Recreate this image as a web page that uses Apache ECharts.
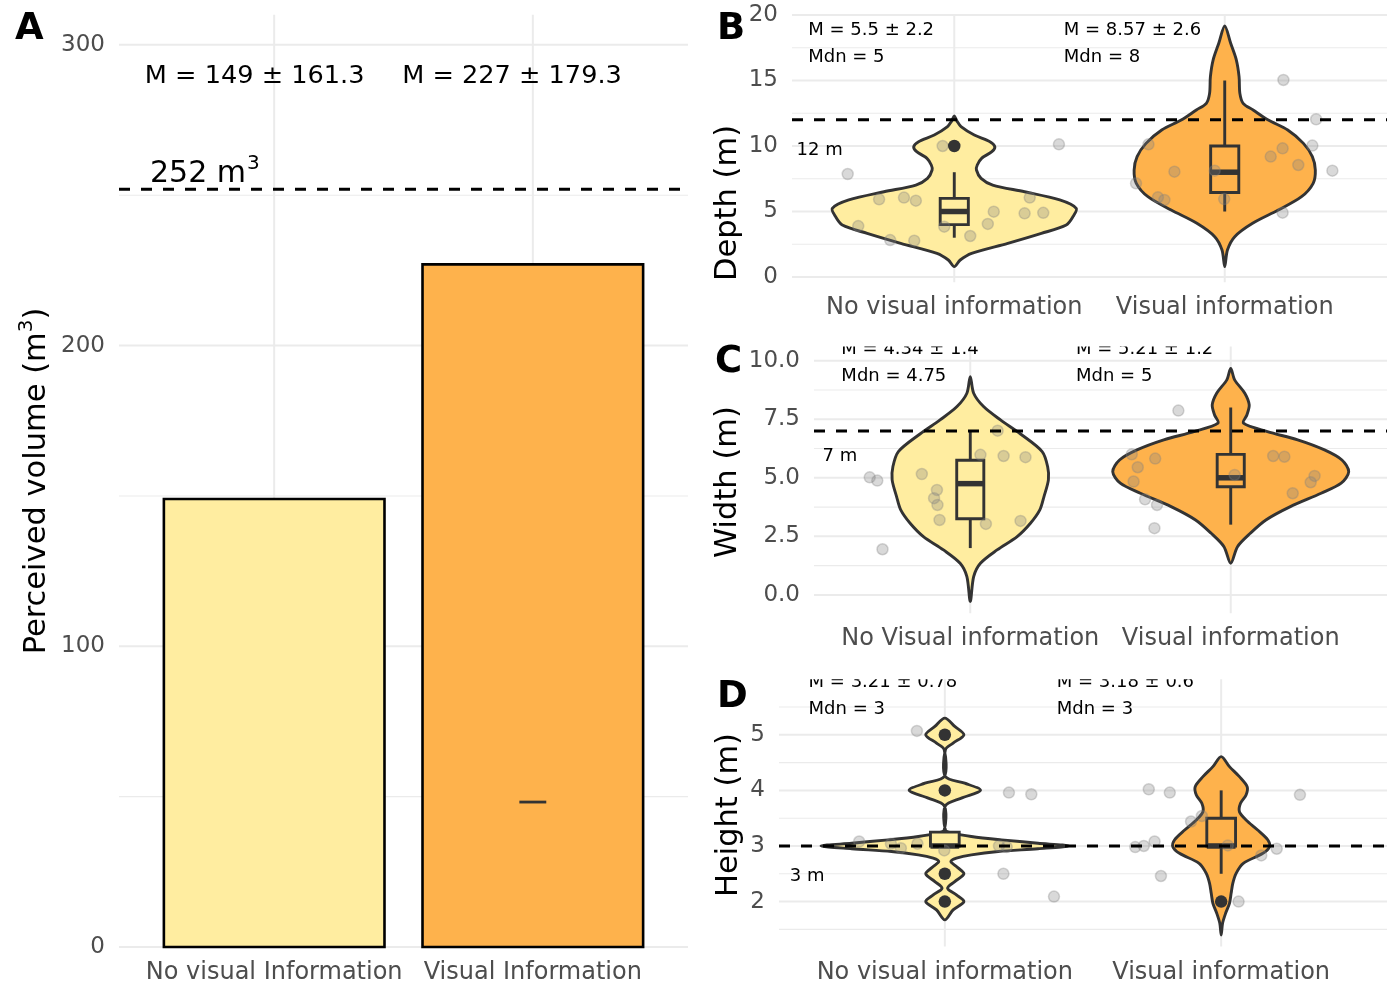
<!DOCTYPE html>
<html><head><meta charset="utf-8">
<script src="https://cdn.jsdelivr.net/npm/echarts@6/dist/echarts.min.js"></script>
<style>html,body{margin:0;padding:0;background:#fff}#c{width:1400px;height:1000px}</style>
</head><body><div id="c"></div>
<script>
// ---------------- DATA ----------------
// Panel A
const volCategories = ['No visual Information', 'Visual Information'];
const volMeans = [149, 227];
const volStats = ['M = 149 ± 161.3', 'M = 227 ± 179.3'];
const volRef = 252;
const volRefLabel = ['252 m', '3'];
const volMark = [2, 48.2];
const volTicks = [0, 100, 200, 300];
const volMinorTicks = [50, 150, 250];

// Panel B (depth)
const depthCategories = ['No visual information', 'Visual information'];
const depthTicks = [0, 5, 10, 15, 20];
const depthMinorTicks = [2.5, 7.5, 12.5, 17.5];
const depthRef = 12;
const depthRefLabel = '12 m';
const depthStats = [['M = 5.5 ± 2.2', 'Mdn = 5'], ['M = 8.57 ± 2.6', 'Mdn = 8']];
const depthViolinNo = [[12.29,0],[11.9,0.010],[11.48,0.025],[10.84,0.074],[10.33,0.132],[9.95,0.150],[9.57,0.139],[9.06,0.101],[8.55,0.085],[8.17,0.082],[7.53,0.099],[7.02,0.142],[6.51,0.260],[5.88,0.390],[5.24,0.451],[4.61,0.439],[3.97,0.414],[3.33,0.322],[2.57,0.198],[1.81,0.064],[1.30,0.022],[0.79,0]];
const depthViolinVis = [[19.16,0],[17.84,0.022],[16.56,0.043],[15.29,0.053],[14.02,0.056],[13.26,0.068],[12.75,0.105],[11.98,0.161],[11.22,0.233],[10.20,0.291],[9.19,0.324],[8.17,0.335],[7.15,0.327],[6.13,0.284],[5.11,0.198],[4.10,0.103],[3.08,0.037],[2.06,0.010],[0.79,0]];
const depthBoxNo = [3, 4, 5, 6, 8];
const depthBoxVis = [5, 6.45, 8, 10, 15];
const depthOutliers = [[1, 10]];
const depthPointsNo = [[0.606,7.86],[0.722,5.93],[0.814,6.06],[0.858,5.83],[0.645,3.89],[0.763,2.82],[0.852,2.77],[0.957,10.0],[0.963,3.84],[1.059,3.13],[1.124,4.05],[1.146,4.99],[1.260,4.86],[1.279,6.06],[1.329,4.90],[1.387,10.13]];
const depthPointsVis = [[1.718,10.13],[1.672,7.15],[1.753,6.08],[1.777,5.88],[1.814,8.04],[1.963,8.12],[1.998,5.95],[2.170,9.19],[2.214,9.82],[2.217,15.04],[2.214,4.91],[2.272,8.55],[2.324,10.03],[2.338,12.04],[2.398,8.12]];

// Panel C (width)
const widthCategories = ['No Visual information', 'Visual information'];
const widthTicks = [0, 2.5, 5, 7.5, 10];
const widthMinorTicks = [1.25, 3.75, 6.25, 8.75];
const widthRef = 7;
const widthRefLabel = '7 m';
const widthStats = [['M = 4.34 ± 1.4', 'Mdn = 4.75'], ['M = 5.21 ± 1.2', 'Mdn = 5']];
const widthViolinNo = [[9.32,0],[8.61,0.013],[8.04,0.051],[7.47,0.116],[6.87,0.193],[6.12,0.276],[5.48,0.297],[4.91,0.300],[4.20,0.283],[3.63,0.267],[3.06,0.231],[2.49,0.180],[1.92,0.103],[1.35,0.039],[0.78,0.013],[-0.28,0]];
const widthViolinVis = [[9.67,0],[9.18,0.015],[8.61,0.054],[8.11,0.071],[7.68,0.062],[7.33,0.049],[6.97,0.141],[6.62,0.257],[6.19,0.360],[5.76,0.427],[5.26,0.453],[4.77,0.424],[4.34,0.347],[3.77,0.229],[3.20,0.135],[2.63,0.075],[2.06,0.026],[1.35,0]];
const widthBoxNo = [2, 3.25, 4.75, 5.75, 7];
const widthBoxVis = [3, 4.62, 5, 6, 8];
const widthOutliers = [];
const widthPointsNo = [[0.614,5.02],[0.643,4.88],[0.663,1.95],[0.814,5.16],[0.872,4.48],[0.861,4.13],[0.874,3.84],[0.882,3.20],[1.039,5.98],[1.060,3.03],[1.105,7.01],[1.128,5.93],[1.212,5.88],[1.193,3.16]];
const widthPointsVis = [[1.799,7.87],[1.620,6.00],[1.710,5.82],[1.643,5.45],[1.627,4.84],[1.671,4.08],[1.717,3.84],[1.707,2.85],[2.015,5.12],[2.163,5.93],[2.206,5.90],[2.322,5.08],[2.307,4.81],[2.238,4.34]];

// Panel D (height)
const heightCategories = ['No visual information', 'Visual information'];
const heightTicks = [2, 3, 4, 5];
const heightMinorTicks = [1.5, 2.5, 3.5, 4.5, 5.5];
const heightRef = 3;
const heightRefLabel = '3 m';
const heightStats = [['M = 3.21 ± 0.78', 'Mdn = 3'], ['M = 3.18 ± 0.6', 'Mdn = 3']];
const heightViolinNo = [[5.30,0],[5.15,0.036],[5.0,0.069],[4.85,0.030],[4.73,0.002],[4.25,0.002],[4.13,0.072],[4.0,0.129],[3.86,0.060],[3.72,0.002],[3.29,0.002],[3.23,0.030],[3.17,0.096],[3.11,0.205],[3.05,0.337],[3.0,0.448],[2.95,0.337],[2.90,0.193],[2.84,0.096],[2.78,0.042],[2.72,0.022],[2.63,0.042],[2.50,0.069],[2.36,0.036],[2.24,0.010],[2.12,0.042],[2.0,0.069],[1.85,0.030],[1.67,0]];
const heightViolinVis = [[4.607,0],[4.427,0.030],[4.247,0.066],[4.067,0.094],[3.917,0.090],[3.767,0.070],[3.617,0.066],[3.468,0.090],[3.288,0.132],[3.108,0.169],[2.988,0.175],[2.868,0.151],[2.688,0.080],[2.508,0.054],[2.328,0.042],[2.149,0.036],[1.969,0.030],[1.789,0.016],[1.609,0.005],[1.40,0]];
const heightBoxNo = [3, 3, 3, 3.25, 3.25];
const heightBoxVis = [2.5, 3, 3, 3.5, 4];
const heightOutliers = [[1, 5], [1, 4], [1, 2.5], [1, 2], [2, 2]];
const heightPointsNo = [[0.899,5.07],[1.232,3.96],[1.313,3.93],[0.690,3.08],[0.805,3.04],[0.841,2.96],[0.901,3.04],[0.998,2.92],[1.196,3.00],[1.224,2.98],[1.212,2.50],[1.395,2.09]];
const heightPointsVis = [[1.738,4.02],[1.814,3.96],[2.285,3.92],[1.891,3.44],[1.930,3.54],[1.689,2.98],[1.720,3.00],[1.759,3.08],[2.024,3.01],[2.145,2.83],[2.201,2.95],[1.782,2.46],[2.063,2.00]];

// ---------------- LAYOUT / STYLE ----------------
const FONT = 'DejaVu Sans';
const COLORS = ['#FFEDA0', '#FEB24C'];
const INK = '#333333';
const GRID_COLOR = '#EBEBEB';
const LW = 2.9;
const TEXT_DY = 1.5;
const layout = {
  A: { grid: { left: 119, top: 14.8, width: 569, height: 932.2 }, y: [0, 310] },
  B: { grid: { left: 792, top: 14.35, width: 595, height: 267.9 }, y: [-0.4, 20.05],
       statX: [0.46, 1.405], statY: [18.95, 16.89], refLab: [0.417, 9.82] },
  C: { grid: { left: 814, top: 346.6, width: 573, height: 266.6 }, y: [-0.78, 10.6],
       statX: [0.505, 1.406], statY: [10.54, 9.39], refLab: [0.433, 5.98] },
  D: { grid: { left: 779, top: 679.2, width: 608, height: 267.4 }, y: [1.19, 6.0],
       statX: [0.507, 1.405], statY: [5.97, 5.48], refLab: [0.439, 2.48] }
};
const BOX_HW = 0.052;
const BAR_HW = 0.4265;

// ---------------- HELPERS ----------------
function gridSeries(gi, major, minor) {
  const data = [];
  major.forEach(v => data.push([0, v, 1]));
  minor.forEach(v => data.push([0, v, 0]));
  [1, 2].forEach(v => data.push([1, v, 1]));
  return {
    type: 'custom', xAxisIndex: gi, yAxisIndex: gi, z: 0, silent: true, data,
    renderItem(params, api) {
      const cs = params.coordSys;
      const t = api.value(0), v = api.value(1), mj = api.value(2);
      let shape;
      if (t === 0) {
        const y = api.coord([1, v])[1];
        shape = { x1: cs.x, y1: y, x2: cs.x + cs.width, y2: y };
      } else {
        const x = api.coord([v, major[0]])[0];
        shape = { x1: x, y1: cs.y, x2: x, y2: cs.y + cs.height };
      }
      return { type: 'line', shape, style: { stroke: GRID_COLOR, lineWidth: mj ? 2 : 1.1 } };
    }
  };
}
function violinSeries(gi, profiles) {
  return {
    type: 'custom', xAxisIndex: gi, yAxisIndex: gi, z: 1, silent: true,
    data: profiles.map((p, i) => [i + 1, p[0][0]]),
    renderItem(params, api) {
      const i = params.dataIndex, prof = profiles[i], xc = i + 1;
      const pts = prof.map(([v, hw]) => api.coord([xc + hw, v]));
      for (let k = prof.length - 2; k >= 1; k--) pts.push(api.coord([xc - prof[k][1], prof[k][0]]));
      return { type: 'polygon', shape: { points: pts, smooth: 0.3 },
               style: { fill: COLORS[i], stroke: INK, lineWidth: LW, lineJoin: 'round' } };
    }
  };
}
function boxSeries(gi, boxes) {
  return {
    type: 'custom', xAxisIndex: gi, yAxisIndex: gi, z: 2, silent: true,
    data: boxes.map((b, i) => [i + 1].concat(b)),
    renderItem(params, api) {
      const xc = api.value(0), lo = api.value(1), q1 = api.value(2), md = api.value(3), q3 = api.value(4), hi = api.value(5);
      const tl = api.coord([xc - BOX_HW, q3]), br = api.coord([xc + BOX_HW, q1]);
      const c = (x, y) => api.coord([x, y]);
      const ch = [];
      if (hi > q3) { const a = c(xc, q3), b = c(xc, hi); ch.push({ type: 'line', shape: { x1: a[0], y1: a[1], x2: b[0], y2: b[1] }, style: { stroke: INK, lineWidth: LW } }); }
      if (lo < q1) { const a = c(xc, q1), b = c(xc, lo); ch.push({ type: 'line', shape: { x1: a[0], y1: a[1], x2: b[0], y2: b[1] }, style: { stroke: INK, lineWidth: LW } }); }
      ch.push({ type: 'rect', shape: { x: tl[0], y: tl[1], width: br[0] - tl[0], height: br[1] - tl[1] },
                style: { fill: COLORS[params.dataIndex], stroke: INK, lineWidth: LW } });
      const m1 = c(xc - BOX_HW, md), m2 = c(xc + BOX_HW, md);
      ch.push({ type: 'line', shape: { x1: m1[0], y1: m1[1], x2: m2[0], y2: m2[1] }, style: { stroke: INK, lineWidth: 5.5 } });
      return { type: 'group', children: ch };
    }
  };
}
function pointSeries(gi, pts) {
  return { type: 'scatter', xAxisIndex: gi, yAxisIndex: gi, z: 3, silent: true, data: pts, symbolSize: 11,
           itemStyle: { opacity: 1, color: 'rgba(128,128,128,0.3)', borderColor: 'rgba(128,128,128,0.32)', borderWidth: 1.5 } };
}
function outlierSeries(gi, pts) {
  return { type: 'scatter', xAxisIndex: gi, yAxisIndex: gi, z: 4, silent: true, data: pts, symbolSize: 12.5,
           itemStyle: { opacity: 1, color: INK } };
}
function refSeries(gi, v) {
  return {
    type: 'custom', xAxisIndex: gi, yAxisIndex: gi, z: 5, silent: true, data: [[1, v]],
    renderItem(params, api) {
      const cs = params.coordSys; const y = api.coord([1, api.value(1)])[1];
      return { type: 'line', shape: { x1: cs.x, y1: y, x2: cs.x + cs.width, y2: y },
               style: { stroke: '#000', lineWidth: 3, lineDash: [11, 11] } };
    }
  };
}
function textSeries(gi, items, size) {
  return {
    type: 'custom', xAxisIndex: gi, yAxisIndex: gi, z: 6, silent: true, clip: true,
    data: items.map(t => [t[0], t[1]]),
    renderItem(params, api) {
      const p = api.coord([api.value(0), api.value(1)]);
      const it = items[params.dataIndex];
      const style = { fill: '#000', fontSize: size, fontFamily: FONT, align: 'left', verticalAlign: 'middle' };
      if (Array.isArray(it[2])) {
        style.text = '{a|' + it[2][0] + '}{s|' + it[2][1] + '}';
        style.rich = { a: { fontSize: it[3], fontFamily: FONT, lineHeight: 40, verticalAlign: 'middle' },
                       s: { fontSize: 20, fontFamily: FONT, lineHeight: 40, verticalAlign: 'top', padding: [0, 0, 0, 1] } };
      } else {
        style.text = it[2];
        if (it[3]) style.fontSize = it[3];
      }
      return { type: 'text', x: p[0], y: p[1] + TEXT_DY, style };
    }
  };
}
function statItems(L, stats, refLabel) {
  const out = [];
  stats.forEach((s, i) => { out.push([L.statX[i], L.statY[0], s[0]]); out.push([L.statX[i], L.statY[1], s[1]]); });
  out.push([L.refLab[0], L.refLab[1], refLabel]);
  return out;
}

// ---------------- AXES ----------------
const keys = ['A', 'B', 'C', 'D'];
const cats = [volCategories, depthCategories, widthCategories, heightCategories];
const yTicks = [volTicks, depthTicks, widthTicks, heightTicks];
const yFmt = [v => String(v), v => String(v), v => v.toFixed(1), v => String(v)];
const grids = keys.map(k => Object.assign({ containLabel: false, outerBoundsMode: 'none' }, layout[k].grid));
const xAxes = keys.map((k, i) => ({
  gridIndex: i, type: 'value', min: 0.4, max: 2.6,
  axisLine: { show: false }, axisTick: { show: false }, splitLine: { show: false },
  axisLabel: { customValues: [1, 2], formatter: v => cats[i][Math.round(v) - 1], fontSize: 24, color: '#4D4D4D', margin: 14, fontFamily: FONT }
}));
const yAxes = keys.map((k, i) => ({
  gridIndex: i, type: 'value', min: layout[k].y[0], max: layout[k].y[1],
  axisLine: { show: false }, axisTick: { show: false }, splitLine: { show: false },
  axisLabel: { customValues: yTicks[i], formatter: yFmt[i], fontSize: 23, color: '#4D4D4D', margin: 14, fontFamily: FONT }
}));

// ---------------- SERIES ----------------
const series = [];
// A
series.push(gridSeries(0, volTicks, volMinorTicks));
series.push({
  type: 'custom', xAxisIndex: 0, yAxisIndex: 0, z: 1, silent: true,
  data: volMeans.map((v, i) => [i + 1, v]),
  renderItem(params, api) {
    const x = api.value(0), v = api.value(1);
    const tl = api.coord([x - BAR_HW, v]), br = api.coord([x + BAR_HW, 0]);
    return { type: 'rect', shape: { x: tl[0], y: tl[1], width: br[0] - tl[0], height: br[1] - tl[1] },
             style: { fill: COLORS[params.dataIndex], stroke: '#000', lineWidth: 2.6 } };
  }
});
series.push({
  type: 'custom', xAxisIndex: 0, yAxisIndex: 0, z: 2, silent: true, data: [volMark],
  renderItem(params, api) {
    const a = api.coord([api.value(0) - BOX_HW, api.value(1)]), b = api.coord([api.value(0) + BOX_HW, api.value(1)]);
    return { type: 'line', shape: { x1: a[0], y1: a[1], x2: b[0], y2: b[1] }, style: { stroke: INK, lineWidth: 2.8 } };
  }
});
series.push(refSeries(0, volRef));
series.push(textSeries(0, [[0.5, 290, volStats[0]], [1.495, 290, volStats[1]], [0.52, 257.6, volRefLabel, 30]], 25.6));

const panelsData = [
  [depthViolinNo, depthViolinVis, depthBoxNo, depthBoxVis, depthPointsNo, depthPointsVis, depthOutliers, depthRef, depthStats, depthRefLabel, depthTicks, depthMinorTicks],
  [widthViolinNo, widthViolinVis, widthBoxNo, widthBoxVis, widthPointsNo, widthPointsVis, widthOutliers, widthRef, widthStats, widthRefLabel, widthTicks, widthMinorTicks],
  [heightViolinNo, heightViolinVis, heightBoxNo, heightBoxVis, heightPointsNo, heightPointsVis, heightOutliers, heightRef, heightStats, heightRefLabel, heightTicks, heightMinorTicks]
];
panelsData.forEach((p, j) => {
  const gi = j + 1, L = layout[keys[gi]];
  series.push(gridSeries(gi, p[10], p[11]));
  series.push(violinSeries(gi, [p[0], p[1]]));
  series.push(boxSeries(gi, [p[2], p[3]]));
  series.push(pointSeries(gi, p[4].concat(p[5])));
  if (p[6].length) series.push(outlierSeries(gi, p[6]));
  series.push(refSeries(gi, p[7]));
  series.push(textSeries(gi, statItems(L, p[8], p[9]), 18));
});

// ---------------- TITLES ----------------
const titleStyle = (t) => ({ text: t, fontSize: 30.5, fill: '#000', fontFamily: FONT, align: 'center', verticalAlign: 'middle' });
const letterStyle = (t) => ({ text: t, fontSize: 37, fontWeight: 'bold', fill: '#000', fontFamily: FONT, align: 'left', verticalAlign: 'middle' });
const graphic = [
  { type: 'text', x: 35, y: 481, rotation: Math.PI / 2,
    style: { text: '{a|Perceived volume (m}{s|3}{a|)}', fill: '#000', align: 'center', verticalAlign: 'middle',
             rich: { a: { fontSize: 30.5, fontFamily: FONT, lineHeight: 36, verticalAlign: 'bottom' },
                     s: { fontSize: 20, fontFamily: FONT, lineHeight: 36, verticalAlign: 'top' } } } },
  { type: 'text', x: 728, y: 203, rotation: Math.PI / 2, style: titleStyle('Depth (m)') },
  { type: 'text', x: 728, y: 482, rotation: Math.PI / 2, style: titleStyle('Width (m)') },
  { type: 'text', x: 729, y: 815, rotation: Math.PI / 2, style: titleStyle('Height (m)') },
  { type: 'text', x: 15, y: 29, style: letterStyle('A') },
  { type: 'text', x: 717, y: 29, style: letterStyle('B') },
  { type: 'text', x: 715, y: 362, style: letterStyle('C') },
  { type: 'text', x: 717, y: 697, style: letterStyle('D') }
];

const chart = echarts.init(document.getElementById('c'), null, { renderer: 'canvas' });
chart.setOption({
  animation: false,
  backgroundColor: '#ffffff',
  textStyle: { fontFamily: FONT },
  grid: grids, xAxis: xAxes, yAxis: yAxes, series, graphic
});
</script></body></html>
